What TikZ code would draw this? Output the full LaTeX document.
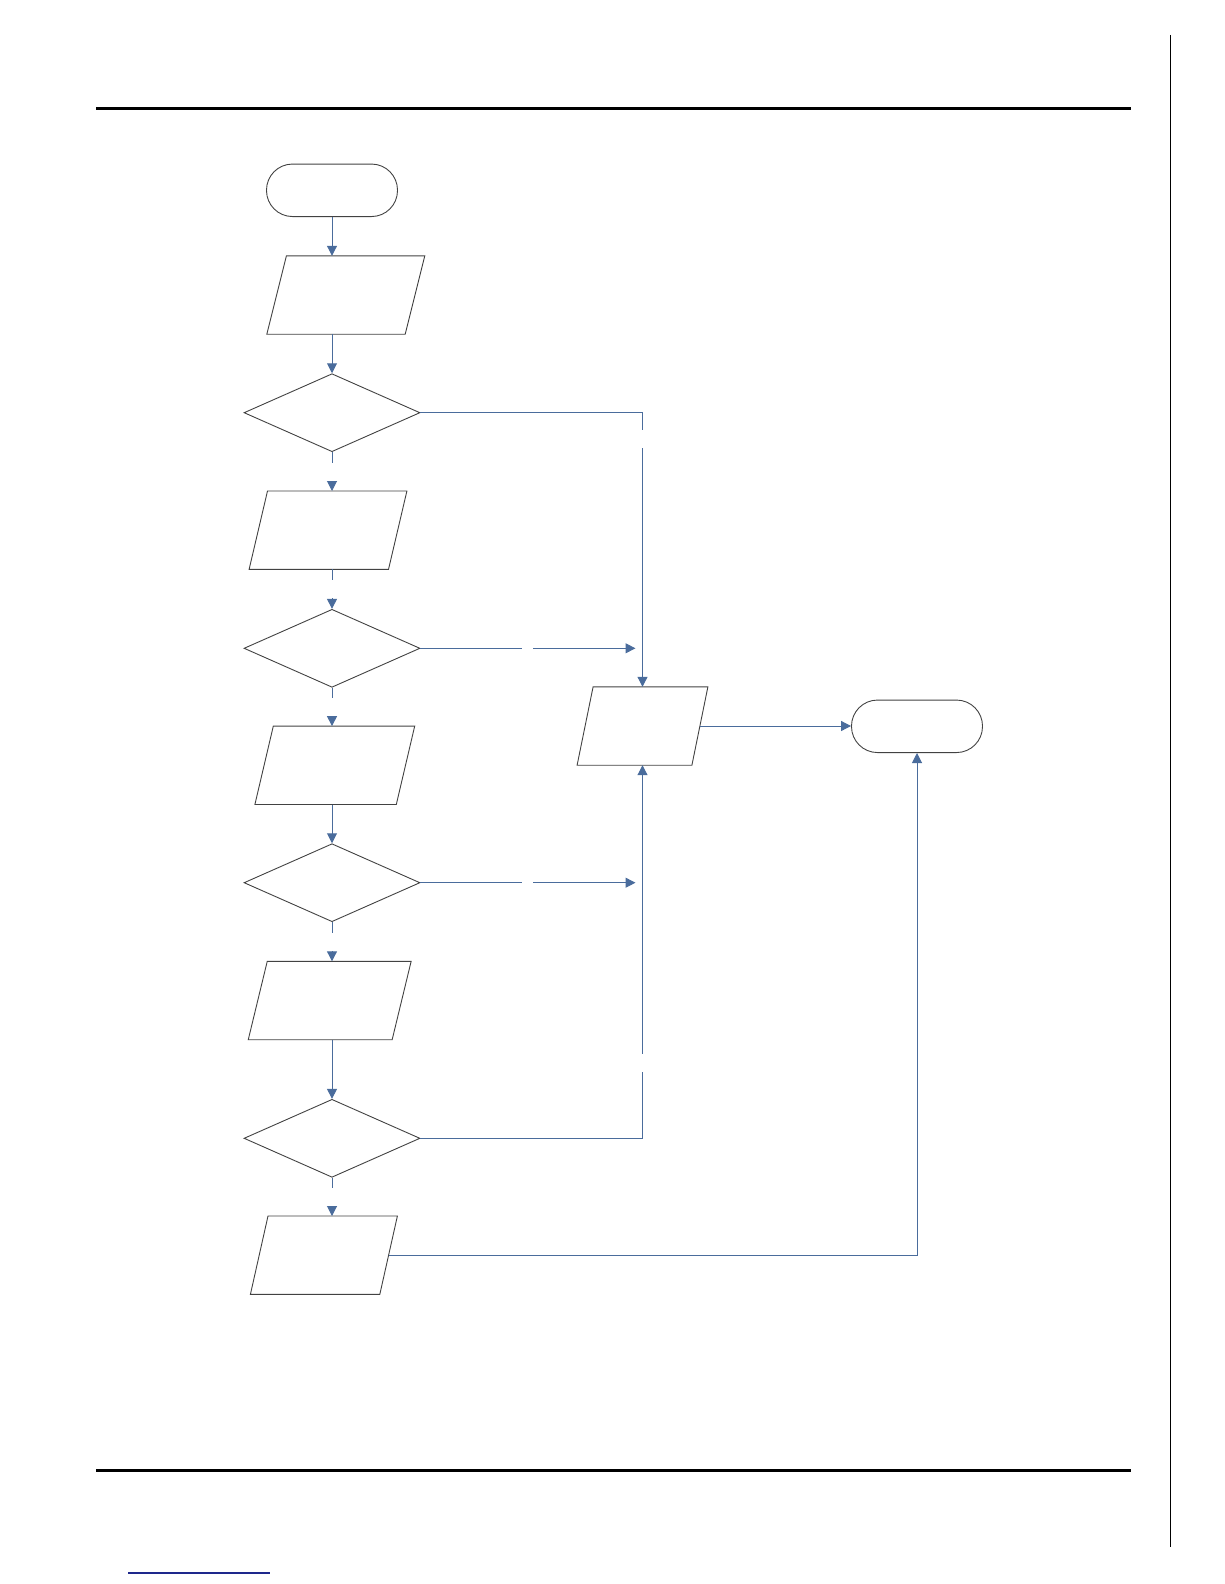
\documentclass[tikz,border=0pt]{standalone}
\usepackage{tikz}
\usetikzlibrary{arrows.meta,shapes,positioning,calc}
\usepackage{xcolor}
\definecolor{flowblue}{RGB}{74,108,156}
\definecolor{edgegray}{RGB}{66,66,66}
\definecolor{linknavy}{RGB}{30,40,140}

\begin{document}
\begin{tikzpicture}[x=1pt, y=-1pt, >={Triangle[length=10pt,width=10pt]},
  outline/.style={draw=edgegray, line width=0.9pt},
  term/.style={outline, rectangle, rounded corners=26pt,
    minimum width=131pt, minimum height=52.5pt, inner sep=0pt},
  decide/.style={outline, diamond, aspect=2.26,
    minimum width=176pt, minimum height=78pt, inner sep=0pt},
  iobox/.style={rectangle, draw=none, minimum height=78pt, inner sep=0pt},
  flow/.style={flowblue, line width=1pt},
  gap/.style={fill=white, inner sep=0pt, minimum width=6pt, minimum height=18pt},
  hgap/.style={fill=white, inner sep=0pt, minimum width=11pt, minimum height=6pt}]

  \useasboundingbox (0,0) rectangle (1224,1584);

  %% Page rules
  \draw[line width=3.5pt] (96,108.5) -- (1131,108.5);
  \draw[line width=3.5pt] (96,1470.5) -- (1131,1470.5);
  \draw[line width=1.2pt] (1170.3,35) -- (1170.3,1547);
  \draw[linknavy, line width=1.5pt] (128,1573) -- (270,1573);

  %% Terminals
  \node[term] (start) at (332,190.3) {};
  \node[term] (stop) at (917,726.3) {};

  %% Decisions
  \foreach \n/\y in {d1/412.7,d2/648.3,d3/882.7,d4/1138.3}
    \node[decide] (\n) at (332,\y) {};

  %% Input/output boxes (name/x/y/width/half skew)
  \foreach \n/\x/\y/\w/\s in {p1/345.8/295/138/9.8, p2/328/530.2/139/9.2,
      p3/334.8/765.3/141/9.2, p4/329.7/1000.5/143.5/9.5,
      p5/323.9/1255.2/129/8.8, pc/642.5/726/114.4/8}{
    \node[iobox, minimum width=\w pt] (\n) at (\x,\y) {};
    \draw[outline] ([xshift=\s pt]\n.north west) -- ([xshift=\s pt]\n.north east)
      -- ([xshift=-\s pt]\n.south east) -- ([xshift=-\s pt]\n.south west) -- cycle;
  }

  %% Main column
  \draw[flow,->] (start.south) -- (start.south |- p1.north);
  \draw[flow,->] (p1.south -| d1.north) -- (d1.north);
  \draw[flow,->] (d1.south) -- node[gap] (g1) {} (d1.south |- p2.north);
  \draw[flow,->] (p2.south -| d2.north) -- node[gap] (g2) {} (d2.north);
  \draw[flow,->] (d2.south) -- node[gap] (g3) {} (d2.south |- p3.north);
  \draw[flow,->] (p3.south -| d3.north) -- (d3.north);
  \draw[flow,->] (d3.south) -- node[gap] (g4) {} (d3.south |- p4.north);
  \draw[flow,->] (p4.south -| d4.north) -- (d4.north);
  \draw[flow,->] (d4.south) -- node[gap] (g5) {} (d4.south |- p5.north);

  %% Side branches
  \draw[flow,->] (d1.east) -| node[gap, pos=0.548] (g6) {} (pc.north);
  \draw[flow,->] (d2.east) -- node[hgap] (g7) {} ($(d2.east -| pc.north)+(-7,0)$);
  \draw[flow,->] (d3.east) -- node[hgap] (g8) {} ($(d3.east -| pc.north)+(-7,0)$);
  \draw[flow,->] (d4.east) -| node[gap, pos=0.601] (g9) {} (pc.south);
  \draw[flow,->] (pc.east) -- (pc.east -| stop.west);
  \draw[flow,->] (p5.east) -| (stop.south);
\end{tikzpicture}
\end{document}
